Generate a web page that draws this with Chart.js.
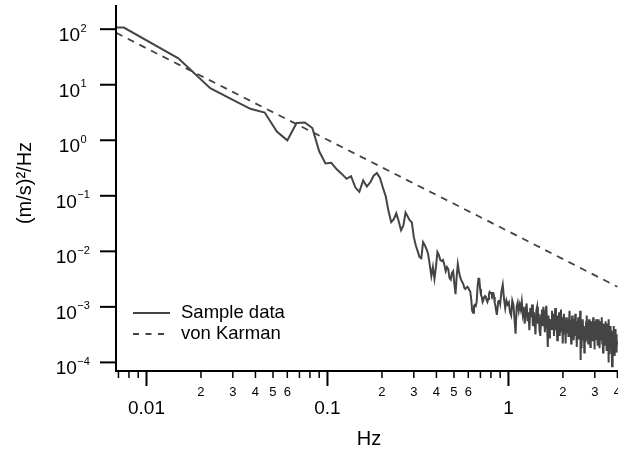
<!DOCTYPE html>
<html lang="en">
<head>
  <meta charset="UTF-8">
  <title>Sample data vs von Karman</title>
  <script src="https://cdn.jsdelivr.net/npm/chart.js"></script>
  <style>
    body {
      margin: 0;
      background: #fff;
      overflow: hidden;
    }
    canvas {
      display: block;
    }
  </style>
</head>
<body>
  <canvas id="psdChart" width="618" height="449"></canvas>

  <script>
    // spectrum bins below 0.9 Hz, f = k * binWidth (k = 1..120)
    const binWidth = 0.0075;
    const sampleLow = [
      107, 29.8, 8.65, 5.36, 3.68, 3.16, 1.44, 0.995, 2.04, 2.09,
      1.66, 0.632, 0.381, 0.392, 0.30, 0.248, 0.202, 0.225, 0.142, 0.118,
      0.189, 0.147, 0.175, 0.23, 0.258, 0.21, 0.14, 0.097, 0.0525, 0.0334,
      0.0378, 0.0484, 0.0348, 0.024, 0.029, 0.050, 0.0425, 0.036, 0.0334, 0.018,
      0.0129, 0.0101, 0.0079, 0.0075, 0.0146, 0.0129, 0.011, 0.0089, 0.0057, 0.0036,
      0.0052, 0.0032, 0.0052, 0.0097, 0.0086, 0.0070, 0.0067, 0.0070, 0.0057, 0.0044,
      0.0052, 0.0048, 0.0033, 0.0031, 0.0041, 0.0044, 0.0026, 0.0017, 0.0035, 0.0059,
      0.0044, 0.0035, 0.0031, 0.0028, 0.0026, 0.0022, 0.0021, 0.0022, 0.0023, 0.0022,
      0.0020, 0.0019, 0.0014, 0.00085, 0.00078, 0.00104, 0.00109, 0.00104, 0.00123, 0.0023,
      0.0032, 0.0032, 0.0021, 0.00164, 0.00151, 0.00123, 0.00133, 0.00151, 0.00157, 0.00151,
      0.00133, 0.00123, 0.00139, 0.00171, 0.00186, 0.00178, 0.00178, 0.00164, 0.00178, 0.00178,
      0.00151, 0.00118, 0.00104, 0.00085, 0.00072, 0.00092, 0.00123, 0.00128, 0.00128, 0.00113
    ];
    // noisy part, f = highStart + j * highStep
    const highStart = 0.915;
    const highStep = 0.015;
    const sampleHigh = [
      1.9e-3, 2.5e-3, 1.4e-3, 9.5e-4, 1.3e-3, 1.1e-3, 1.2e-3, 8.0e-4, 7.0e-4, 1.3e-3,
      1.1e-3, 6.0e-4, 3.3e-4, 1.0e-3, 1.2e-3, 8.5e-4, 1.1e-3, 9.0e-4, 1.25e-3, 7.5e-4,
      1.0e-3, 5.0e-4, 8.5e-4, 1.15e-3, 5.5e-4, 8.0e-4, 3.8e-4, 9.5e-4, 6.5e-4, 1.1e-3,
      4.5e-4, 8.0e-4, 6.0e-4, 3.2e-4, 8.5e-4, 1.0e-3, 5.0e-4, 7.5e-4, 3.8e-4, 3.0e-4,
      7.0e-4, 9.0e-4, 4.5e-4, 1.0e-3, 6.0e-4, 3.5e-4, 8.0e-4, 1.05e-3, 4.5e-4, 1.9e-4,
      7.0e-4, 2.8e-4, 6.0e-4, 5.0e-4, 4.0e-4, 8.5e-4, 4.5e-4, 7.5e-4, 3.0e-4, 6.5e-4,
      9.5e-4, 3.8e-4, 6.0e-4, 2.5e-4, 7.0e-4, 4.0e-4, 8.0e-4, 3.0e-4, 5.5e-4, 9.0e-4,
      3.5e-4, 6.5e-4, 2.2e-4, 6.0e-4, 7.5e-4, 3.2e-4, 5.5e-4, 2.2e-4, 6.5e-4, 4.0e-4,
      3.5e-4, 6.0e-4, 3.0e-4, 5.0e-4, 8.5e-4, 3.8e-4, 5.5e-4, 2.2e-4, 4.5e-4, 7.0e-4,
      3.5e-4, 5.0e-4, 2.5e-4, 6.0e-4, 4.0e-4, 7.5e-4, 3.0e-4, 4.5e-4, 1.9e-4, 5.5e-4,
      3.5e-4, 6.5e-4, 2.6e-4, 5.0e-4, 4.0e-4, 8.5e-4, 1.1e-4, 4.5e-4, 1.8e-4, 5.5e-4,
      3.5e-4, 6.0e-4, 2.6e-4, 4.5e-4, 1.5e-4, 4.0e-4, 3.0e-4, 2.3e-4, 5.5e-4, 3.5e-4,
      7.0e-4, 2.6e-4, 4.5e-4, 2.2e-4, 4.0e-4, 6.0e-4, 3.0e-4, 5.0e-4, 1.9e-4, 3.5e-4,
      5.5e-4, 2.6e-4, 4.5e-4, 2.4e-4, 4.0e-4, 6.5e-4, 3.0e-4, 5.0e-4, 1.7e-4, 3.5e-4,
      5.5e-4, 2.5e-4, 4.5e-4, 6.0e-4, 3.0e-4, 5.0e-4, 3.5e-4, 2.0e-4, 4.5e-4, 6.0e-4,
      3.0e-4, 4.0e-4, 1.8e-4, 3.5e-4, 5.5e-4, 2.5e-4, 4.5e-4, 3.0e-4, 6.5e-4, 2.2e-4,
      4.0e-4, 1.5e-4, 3.5e-4, 5.0e-4, 2.8e-4, 4.5e-4, 2.0e-4, 3.8e-4, 5.5e-4, 2.5e-4,
      4.0e-4, 1.6e-4, 3.5e-4, 2.8e-4, 5.0e-4, 2.2e-4, 4.0e-4, 1.0e-4, 6.0e-4, 2.0e-4,
      3.5e-4, 1.4e-4, 3.0e-4, 4.5e-4, 2.4e-4, 3.8e-4, 2.0e-4, 3.5e-4, 8.5e-5, 2.5e-4,
      3.2e-4, 1.7e-4, 3.5e-4, 2.8e-4, 4.5e-4, 2.0e-4, 3.0e-4, 1.3e-4, 2.6e-4, 4.0e-4,
      2.2e-4, 3.2e-4, 1.5e-4, 2.8e-4, 1.9e-4, 2.4e-4
    ];
    // first segment runs flat in from the left edge
    const sampleLeadHz = 0.006;

    const karmanHz = [0.0068, 0.01, 0.1, 1, 4];
    const karmanValues = [86, 45.3, 1.02, 0.0229, 0.0023];

    const yTickExponents = [2, 1, 0, -1, -2, -3, -4];
    const xMajorTicks = [0.01, 0.1, 1];
    const xMajorLabels = ['0.01', '0.1', '1'];
    const xMinorTicks = [0.007, 0.008, 0.009, 0.02, 0.03, 0.04, 0.05, 0.06, 0.07, 0.08, 0.09,
      0.2, 0.3, 0.4, 0.5, 0.6, 0.7, 0.8, 0.9, 2, 3, 4];
    const xMinorLabelled = [0.02, 0.03, 0.04, 0.05, 0.06, 0.2, 0.3, 0.4, 0.5, 0.6, 2, 3, 4];

    const legendNames = ['Sample data', 'von Karman'];

    let samplePts = [{ x: sampleLeadHz, y: sampleLow[0] }];
    sampleLow.forEach((v, i) => samplePts.push({ x: (i + 1) * binWidth, y: v }));
    sampleHigh.forEach((v, j) => samplePts.push({ x: highStart + j * highStep, y: v }));
    let karmanPts = karmanHz.map((f, i) => ({ x: f, y: karmanValues[i] }));

    const FONT = '"Liberation Sans", Arial, Helvetica, sans-serif';
    const LINE = '#444';

    // Igor-style axes, labels and legend drawn from the chart's own scales
    const igorAxes = {
      id: 'igorAxes',
      afterDraw(chart) {
        const { ctx, chartArea: a, scales: { x, y } } = chart;
        ctx.save();
        ctx.strokeStyle = '#000';
        ctx.fillStyle = '#000';

        ctx.lineWidth = 2;
        ctx.beginPath();
        ctx.moveTo(a.left, a.top);
        ctx.lineTo(a.left, a.bottom);
        ctx.lineTo(a.right + 2, a.bottom);
        ctx.stroke();

        // y ticks 10^n
        yTickExponents.forEach(p => {
          const py = y.getPixelForValue(Math.pow(10, p));
          ctx.lineWidth = 2;
          ctx.beginPath();
          ctx.moveTo(a.left - 16, py);
          ctx.lineTo(a.left, py);
          ctx.stroke();

          const sup = p < 0 ? '\u2212' + Math.abs(p) : String(p);
          ctx.font = '19px ' + FONT;
          const w1 = ctx.measureText('10').width;
          ctx.font = '11px ' + FONT;
          const w2 = ctx.measureText(sup).width;
          const x0 = 72.5 - (w1 + w2) / 2;
          ctx.textAlign = 'left';
          ctx.textBaseline = 'alphabetic';
          ctx.font = '19px ' + FONT;
          ctx.fillText('10', x0, py + 12);
          ctx.font = '11px ' + FONT;
          ctx.fillText(sup, x0 + w1 + 0.5, py + 2.5);
        });

        // x ticks
        ctx.textAlign = 'center';
        ctx.textBaseline = 'alphabetic';
        xMinorTicks.forEach(v => {
          const px = x.getPixelForValue(v);
          ctx.lineWidth = 1.5;
          ctx.beginPath();
          ctx.moveTo(px, a.bottom);
          ctx.lineTo(px, a.bottom + 7);
          ctx.stroke();
        });
        ctx.font = '13px ' + FONT;
        xMinorLabelled.forEach(v => {
          const px = x.getPixelForValue(v);
          const digit = Math.round(v / Math.pow(10, Math.floor(Math.log10(v) + 1e-9)));
          ctx.fillText(String(digit), px, a.bottom + 25);
        });
        ctx.font = '19px ' + FONT;
        xMajorTicks.forEach((v, i) => {
          const px = x.getPixelForValue(v);
          ctx.lineWidth = 2;
          ctx.beginPath();
          ctx.moveTo(px, a.bottom);
          ctx.lineTo(px, a.bottom + 15);
          ctx.stroke();
          ctx.fillText(xMajorLabels[i], px, a.bottom + 43);
        });

        // axis titles
        ctx.font = '20px ' + FONT;
        ctx.fillText('Hz', (a.left + a.right) / 2 + 2, 445);
        ctx.save();
        ctx.translate(31, 183);
        ctx.rotate(-Math.PI / 2);
        ctx.fillText('(m/s)\u00B2/Hz', 0, 0);
        ctx.restore();

        // legend
        ctx.strokeStyle = LINE;
        ctx.lineWidth = 1.8;
        ctx.beginPath();
        ctx.moveTo(133, 313);
        ctx.lineTo(170, 313);
        ctx.stroke();
        ctx.setLineDash([6, 6.5]);
        ctx.beginPath();
        ctx.moveTo(133, 334);
        ctx.lineTo(170, 334);
        ctx.stroke();
        ctx.setLineDash([]);
        ctx.font = '18.5px ' + FONT;
        ctx.textAlign = 'left';
        ctx.textBaseline = 'middle';
        ctx.fillText(legendNames[0], 181, 313);
        ctx.fillText(legendNames[1], 181, 334);

        ctx.restore();
      }
    };

    let ctx = document.getElementById('psdChart').getContext('2d');
    let chart = new Chart(ctx, {
      type: 'line',
      data: {
        datasets: [{
          label: legendNames[0],
          data: samplePts,
          borderColor: LINE,
          borderWidth: 2,
          pointRadius: 0,
          tension: 0,
          fill: false
        }, {
          label: legendNames[1],
          data: karmanPts,
          borderColor: LINE,
          borderWidth: 1.8,
          borderDash: [7, 6],
          pointRadius: 0,
          tension: 0,
          fill: false
        }]
      },
      options: {
        responsive: false,
        animation: false,
        events: [],
        layout: { padding: { left: 116, right: 0, top: 5, bottom: 78 } },
        plugins: {
          legend: { display: false },
          tooltip: { enabled: false }
        },
        scales: {
          x: {
            type: 'logarithmic',
            display: false,
            min: 0.006785,
            max: 4.03
          },
          y: {
            type: 'logarithmic',
            display: false,
            min: 7.49e-5,
            max: 272.7
          }
        }
      },
      plugins: [igorAxes]
    });
  </script>
</body>
</html>
